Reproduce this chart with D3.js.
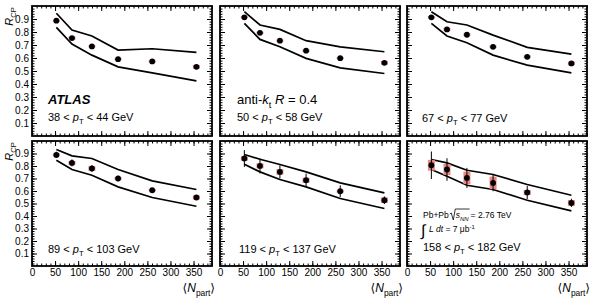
<!DOCTYPE html>
<html>
<head>
<meta charset="utf-8">
<script src="https://cdn.jsdelivr.net/npm/d3@7"></script>
<style>
  body { margin: 0; background: #fff; }
  svg { font-family: "Liberation Sans", Arial, "DejaVu Sans", sans-serif; }
</style>
</head>
<body>
<svg id="chart" width="592" height="300"></svg>
<script>
// centrality bins: mean number of participants
const npart = [52.8, 86.6, 129.8, 186.5, 260.5, 356.2];

// jet pT bins, one per panel
const ptLow = ["38", "50", "67", "89", "119", "158"];
const ptHigh = ["44", "58", "77", "103", "137", "182"];

const rcp = [
  [0.887, 0.753, 0.689, 0.591, 0.574, 0.532],
  [0.913, 0.794, 0.733, 0.656, 0.599, 0.563],
  [0.913, 0.820, 0.779, 0.686, 0.609, 0.558],
  [0.889, 0.825, 0.780, 0.700, 0.606, 0.548],
  [0.860, 0.801, 0.753, 0.686, 0.598, 0.526],
  [0.806, 0.772, 0.705, 0.665, 0.588, 0.505]
];
const statErr = [
  [0.004, 0.005, 0.005, 0.005, 0.004, 0.004],
  [0.006, 0.006, 0.006, 0.006, 0.005, 0.005],
  [0.010, 0.010, 0.010, 0.009, 0.008, 0.007],
  [0.025, 0.028, 0.026, 0.022, 0.018, 0.012],
  [0.067, 0.060, 0.053, 0.053, 0.047, 0.030],
  [0.110, 0.090, 0.080, 0.067, 0.053, 0.033]
];
const sysErr = [
  [0.008, 0.012, 0.008, 0.008, 0.008, 0.014],
  [0.008, 0.008, 0.008, 0.010, 0.008, 0.014],
  [0.010, 0.012, 0.010, 0.010, 0.010, 0.014],
  [0.012, 0.015, 0.018, 0.012, 0.010, 0.016],
  [0.018, 0.020, 0.022, 0.020, 0.012, 0.022],
  [0.043, 0.044, 0.050, 0.050, 0.020, 0.023]
];
// correlated uncertainty band (upper / lower edges)
const bandHigh = [
  [0.944, 0.815, 0.769, 0.661, 0.671, 0.643],
  [0.956, 0.854, 0.820, 0.733, 0.686, 0.648],
  [0.956, 0.879, 0.854, 0.776, 0.682, 0.630],
  [0.932, 0.881, 0.860, 0.772, 0.681, 0.612],
  [0.892, 0.854, 0.812, 0.753, 0.665, 0.585],
  [0.852, 0.825, 0.766, 0.732, 0.652, 0.566]
];
const bandLow = [
  [0.836, 0.707, 0.622, 0.532, 0.486, 0.424],
  [0.867, 0.743, 0.686, 0.597, 0.524, 0.481],
  [0.867, 0.769, 0.717, 0.622, 0.545, 0.486],
  [0.846, 0.772, 0.726, 0.633, 0.548, 0.478],
  [0.814, 0.753, 0.692, 0.633, 0.540, 0.460],
  [0.772, 0.718, 0.646, 0.612, 0.526, 0.441]
];

const xTicks = [0, 50, 100, 150, 200, 250, 300, 350];
const yTicks = [0.1, 0.2, 0.3, 0.4, 0.5, 0.6, 0.7, 0.8, 0.9];

var cols = [32, 220, 407],
    panelW = 180,
    rows = [{y: 6, h: 130}, {y: 141, h: 125}],
    xMax = 390;

let svg = d3.select("#chart");

// text made of pieces: italic, bold, subscript, superscript
let richText = (sel, x, y, size, parts) => {
    let t = sel.append("text")
        .attr("x", x)
        .attr("y", y)
        .attr("font-size", size);
    let shift = 0;
    for (let p of parts) {
        let target = p.sub ? size * 0.3 : p.sup ? -size * 0.4 : 0;
        let ts = t.append("tspan")
            .attr("dy", target - shift)
            .text(p.t);
        shift = target;
        if (p.i) ts.attr("font-style", "italic");
        if (p.b) ts.attr("font-weight", "bold");
        if (p.sub || p.sup) ts.attr("font-size", size * 0.7);
    }
    return t;
};

let ptParts = (k) => [
    {t: ptLow[k] + " < "}, {t: "p", i: true}, {t: "T", sub: true},
    {t: " < " + ptHigh[k] + " GeV"}
];

let drawPanel = (k) => {
    let col = k % 3, row = rows[Math.floor(k / 3)];
    let x0 = cols[col];

    let x = d3.scaleLinear().domain([0, xMax]).range([x0, x0 + panelW]);
    let y = d3.scaleLinear().domain([0, 1]).range([row.y + row.h, row.y]);

    let g = svg.append("g");

    // band
    let line = d3.line().x((d, i) => x(npart[i])).y(d => y(d));
    g.append("path").attr("d", line(bandHigh[k]))
        .attr("fill", "none").attr("stroke", "#000").attr("stroke-width", 1.7);
    g.append("path").attr("d", line(bandLow[k]))
        .attr("fill", "none").attr("stroke", "#000").attr("stroke-width", 1.7);

    // systematic boxes
    g.selectAll("rect.sys")
        .data(rcp[k])
        .join("rect")
        .attr("class", "sys")
        .attr("x", (d, i) => x(npart[i]) - 3.5)
        .attr("width", 7)
        .attr("y", (d, i) => y(d + sysErr[k][i]))
        .attr("height", (d, i) => y(d - sysErr[k][i]) - y(d + sysErr[k][i]))
        .attr("fill", "#ec8585");

    // stat error bars
    g.selectAll("line.stat")
        .data(rcp[k])
        .join("line")
        .attr("class", "stat")
        .attr("x1", (d, i) => x(npart[i]))
        .attr("x2", (d, i) => x(npart[i]))
        .attr("y1", (d, i) => y(d + statErr[k][i]))
        .attr("y2", (d, i) => y(d - statErr[k][i]))
        .attr("stroke", "#000")
        .attr("stroke-width", 1);

    g.selectAll("circle")
        .data(rcp[k])
        .join("circle")
        .attr("cx", (d, i) => x(npart[i]))
        .attr("cy", d => y(d))
        .attr("r", 2.9)
        .attr("fill", "#000");

    // ticks on all four sides, pointing inward
    let xMinor = d3.range(0, xMax + 1, 10);
    let yMinor = d3.range(1, 50).map(d => d / 50);
    let bottom = row.y + row.h, right = x0 + panelW;

    let ax = (gen, tr) => g.append("g")
        .attr("transform", tr)
        .call(gen)
        .call(a => a.select(".domain").remove())
        .call(a => a.selectAll("line").attr("stroke-width", 1));

    ax(d3.axisBottom(x).tickValues(xMinor).tickSize(-2.5).tickFormat(""), `translate(0,${bottom})`);
    ax(d3.axisTop(x).tickValues(xMinor).tickSize(-2.5).tickFormat(""), `translate(0,${row.y})`);
    ax(d3.axisTop(x).tickValues(xTicks).tickSize(-5).tickFormat(""), `translate(0,${row.y})`);
    let xa = ax(d3.axisBottom(x).tickValues(xTicks).tickSize(-5).tickPadding(3)
        .tickFormat(row.y > 100 ? d3.format("d") : ""), `translate(0,${bottom})`);
    xa.selectAll("text").attr("font-size", 10).attr("font-family", null).attr("fill", "#000");

    ax(d3.axisLeft(y).tickValues(yMinor).tickSize(-2.5).tickFormat(""), `translate(${x0},0)`);
    ax(d3.axisRight(y).tickValues(yMinor).tickSize(-2.5).tickFormat(""), `translate(${right},0)`);
    ax(d3.axisRight(y).tickValues(yTicks).tickSize(-5).tickFormat(""), `translate(${right},0)`);
    let ya = ax(d3.axisLeft(y).tickValues(yTicks).tickSize(-5).tickPadding(3)
        .tickFormat(col == 0 ? d3.format(".1f") : ""), `translate(${x0},0)`);
    ya.selectAll("text").attr("font-size", 10).attr("font-family", null).attr("fill", "#000");

    // frame
    g.append("rect")
        .attr("x", x0).attr("y", row.y)
        .attr("width", panelW).attr("height", row.h)
        .attr("fill", "none").attr("stroke", "#000").attr("stroke-width", 1.8);

    // axis titles
    if (col == 0) {
        let t = richText(g, 0, 0, 11, [{t: "R", i: true}, {t: "CP", sub: true}]);
        t.attr("transform", `translate(13,${row.y + 1}) rotate(-90)`)
            .attr("text-anchor", "end");
    }
    if (row.y > 100) {
        richText(g, right + 3, 292, 12,
            [{t: "\u27e8"}, {t: "N", i: true}, {t: "part", sub: true}, {t: "\u27e9"}])
            .attr("text-anchor", "end");
    }
};

for (let k = 0; k < 6; k++) drawPanel(k);

// labels
richText(svg, 48, 104, 13, [{t: "ATLAS", i: true, b: true}]);
richText(svg, 48, 121, 11, ptParts(0));
richText(svg, 237, 104, 13, [{t: "anti-"}, {t: "k", i: true}, {t: "t", sub: true}, {t: " "},
    {t: "R", i: true}, {t: " = 0.4"}]);
richText(svg, 237, 121, 11, ptParts(1));
richText(svg, 422, 122, 11, ptParts(2));
richText(svg, 48, 253, 11, ptParts(3));
richText(svg, 239, 253, 11, ptParts(4));
richText(svg, 423, 251, 11, ptParts(5));

// Pb+Pb sqrt(sNN) label
let pb = richText(svg, 423, 218, 8.5, [{t: "Pb+Pb"}]);
let pbW = pb.node().getComputedTextLength();
let rx = 423 + pbW + 1;
let sq = richText(svg, rx + 6, 218, 8.5, [{t: "s", i: true}, {t: "NN", sub: true, i: true}]);
let sqW = sq.node().getComputedTextLength();
svg.append("path")
    .attr("d", `M${rx},214 L${rx + 1.5},213 L${rx + 3.5},220 L${rx + 5.5},209 L${rx + 7 + sqW},209`)
    .attr("fill", "none").attr("stroke", "#000").attr("stroke-width", 0.8);
richText(svg, rx + 7 + sqW + 1, 218, 8.5, [{t: "= 2.76 TeV"}]);

richText(svg, 421, 236, 16, [{t: "\u222b"}]);
richText(svg, 429, 232, 8.5, [{t: "L dt", i: true}, {t: " = 7 \u03bcb"}, {t: "-1", sup: true}]);
</script>
</body>
</html>
